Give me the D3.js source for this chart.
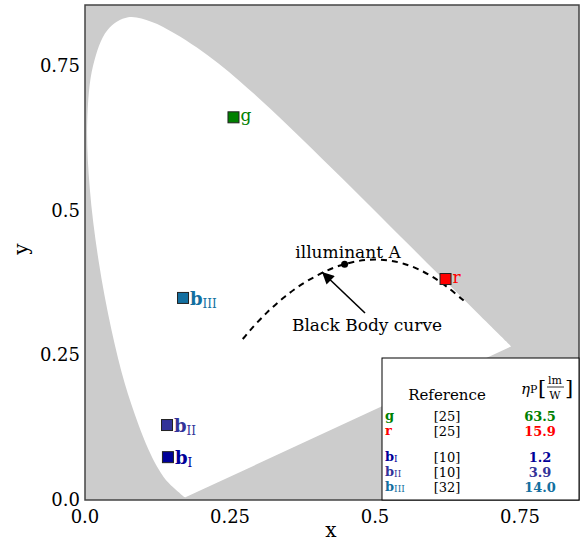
<!DOCTYPE html>
<html><head><meta charset="utf-8">
<script src="https://cdn.jsdelivr.net/npm/d3@7"></script>
<style>body{margin:0;background:#fff}svg{display:block}text{font-family:"DejaVu Serif",serif}</style>
</head><body>
<svg id="c" width="581" height="544"></svg>
<script>
// CIE 1931 spectral locus (380..700 nm)
const locusX = [0.1741,0.1740,0.1738,0.1736,0.1733,0.1730,0.1726,0.1721,0.1714,0.1703,0.1689,0.1669,0.1644,0.1611,0.1566,0.1510,0.1440,0.1355,0.1241,0.1096,0.0913,0.0687,0.0454,0.0235,0.0082,0.0039,0.0139,0.0389,0.0743,0.1142,0.1547,0.1929,0.2296,0.2658,0.3016,0.3373,0.3731,0.4087,0.4441,0.4788,0.5125,0.5448,0.5752,0.6029,0.6270,0.6482,0.6658,0.6801,0.6915,0.7006,0.7079,0.7140,0.7190,0.7230,0.7260,0.7283,0.7300,0.7311,0.7320,0.7334,0.7347];
const locusY = [0.0050,0.0050,0.0049,0.0049,0.0048,0.0048,0.0048,0.0048,0.0051,0.0058,0.0069,0.0086,0.0109,0.0138,0.0177,0.0227,0.0297,0.0399,0.0578,0.0868,0.1327,0.2007,0.2950,0.4127,0.5384,0.6548,0.7502,0.8120,0.8338,0.8262,0.8059,0.7816,0.7543,0.7243,0.6923,0.6589,0.6245,0.5896,0.5547,0.5202,0.4866,0.4544,0.4242,0.3965,0.3725,0.3514,0.3340,0.3197,0.3083,0.2993,0.2920,0.2859,0.2809,0.2770,0.2740,0.2717,0.2700,0.2689,0.2680,0.2666,0.2653];
// Planckian locus 1000K..12000K
const bbX = [0.6528,0.6251,0.5985,0.5732,0.5493,0.5267,0.5056,0.4862,0.4684,0.4476,0.4369,0.4176,0.4007,0.3805,0.3608,0.3451,0.3325,0.3221,0.3135,0.3064,0.2952,0.2869,0.2807,0.2760,0.2719];
const bbY = [0.3444,0.3674,0.3858,0.3993,0.4082,0.4133,0.4152,0.4147,0.4123,0.4074,0.4041,0.3965,0.3880,0.3768,0.3636,0.3516,0.3411,0.3318,0.3237,0.3166,0.3048,0.2956,0.2884,0.2826,0.2780];
const illumA = [0.4476, 0.4074];
// OLED emitters
const emNames = ["g","r","b","b","b"];
const emSubs = ["","","I","II","III"];
const emX = [0.256,0.6216,0.143,0.1414,0.169];
const emY = [0.661,0.3817,0.074,0.1295,0.349];
const emColors = ["#008000","#ff0000","#000099","#333399","#136fa0"];
const legendRefs = ["[25]","[25]","[10]","[10]","[32]"];
const legendEff = ["63.5","15.9","1.2","3.9","14.0"];
const xTicks = [0,0.25,0.5,0.75];
const xTickLabels = ["0.0","0.25","0.5","0.75"];
const yTicks = [0,0.25,0.5,0.75];
const yTickLabels = ["0.0","0.25","0.5","0.75"];

const svg = d3.select("#c");
const L=85, R=579, T=5, B=500;
const x = d3.scaleLinear().domain([0,0.8517]).range([L,R]);
const y = d3.scaleLinear().domain([0,0.855]).range([B,T]);

svg.append("clipPath").attr("id","pc").append("rect").attr("x",L).attr("y",T).attr("width",R-L).attr("height",B-T);
const g = svg.append("g").attr("clip-path","url(#pc)");
g.append("rect").attr("x",L).attr("y",T).attr("width",R-L).attr("height",B-T).attr("fill","#cccccc");
const locus = locusX.map((v,i)=>[v,locusY[i]]);
g.append("path").attr("d", d3.line().x(d=>x(d[0])).y(d=>y(d[1])).curve(d3.curveCatmullRom)(locus)+"Z").attr("fill","#fff");

const bb = bbX.map((v,i)=>[v,bbY[i]]);
g.append("path").attr("d", d3.line().x(d=>x(d[0])).y(d=>y(d[1])).curve(d3.curveCatmullRom)(bb))
 .attr("fill","none").attr("stroke","#000").attr("stroke-width",2).attr("stroke-dasharray","6,5");
g.append("circle").attr("cx",x(illumA[0])).attr("cy",y(illumA[1])).attr("r",3.5).attr("fill","#000");

svg.append("text").attr("x",348).attr("y",258).attr("text-anchor","middle").attr("font-size",17).text("illuminant A");
svg.append("text").attr("x",367).attr("y",331).attr("text-anchor","middle").attr("font-size",17).text("Black Body curve");
svg.append("defs").append("marker").attr("id","ah").attr("viewBox","0 0 10 10").attr("refX",10).attr("refY",5)
 .attr("markerWidth",14).attr("markerHeight",12).attr("markerUnits","userSpaceOnUse").attr("orient","auto")
 .append("path").attr("d","M0,0 L10,5 L0,10 Z").attr("fill","#000");
svg.append("line").attr("x1",365).attr("y1",313).attr("x2",322).attr("y2",272).attr("stroke","#000").attr("stroke-width",1.6).attr("marker-end","url(#ah)");

// emitters
emX.forEach((v,i)=>{
  g.append("rect").attr("x",x(v)-5.5).attr("y",y(emY[i])-5.5).attr("width",11).attr("height",11)
   .attr("fill",emColors[i]).attr("stroke","#222").attr("stroke-width",1);
  const t = svg.append("text").attr("x",x(v)+7).attr("fill",emColors[i]);
  if(emSubs[i]===""){
    t.attr("y",y(emY[i])+4).attr("font-size",17).text(emNames[i]);
  } else {
    t.attr("y",y(emY[i])+7).attr("font-size",18).attr("font-weight","bold").text(emNames[i]);
    t.append("tspan").attr("font-size",12).attr("font-weight","normal").attr("dy",3).text(emSubs[i]);
  }
});

// frame
svg.append("rect").attr("x",L).attr("y",T).attr("width",R-L).attr("height",B-T).attr("fill","none").attr("stroke","#444").attr("stroke-width",1.5);

// ticks
svg.selectAll(".xt").data(xTicks).enter().append("text").attr("x",d=>x(d)).attr("y",523).attr("text-anchor","middle").attr("font-size",18).text((d,i)=>xTickLabels[i]);
svg.selectAll(".yt").data(yTicks).enter().append("text").attr("x",80).attr("y",d=>y(d)+6).attr("text-anchor","end").attr("font-size",18).text((d,i)=>yTickLabels[i]);
svg.append("text").attr("x",331).attr("y",537).attr("text-anchor","middle").attr("font-size",20).text("x");
svg.append("text").attr("transform","translate(28,249) rotate(-90)").attr("text-anchor","middle").attr("font-size",20).text("y");

// legend table
const lg = svg.append("g");
lg.append("rect").attr("x",382).attr("y",358).attr("width",197).attr("height",142).attr("fill","#fff").attr("stroke","#000").attr("stroke-width",1);
lg.append("text").attr("x",447).attr("y",400).attr("text-anchor","middle").attr("font-size",15).text("Reference");
const h = lg.append("text").attr("x",521).attr("y",394).attr("font-size",15);
h.append("tspan").attr("font-style","italic").text("η");
h.append("tspan").attr("font-size",11).attr("dy",-1).text("P");
lg.append("text").attr("x",538).attr("y",395).attr("font-size",21).attr("font-weight","100").text("[");
lg.append("text").attr("x",565).attr("y",395).attr("font-size",21).text("]");
lg.append("text").attr("x",555).attr("y",384).attr("text-anchor","middle").attr("font-size",11).text("lm");
lg.append("line").attr("x1",547).attr("x2",564).attr("y1",387).attr("y2",387).attr("stroke","#000").attr("stroke-width",0.8);
lg.append("text").attr("x",555).attr("y",399).attr("text-anchor","middle").attr("font-size",11).text("W");
const rowY = [416,431,457,472,487];
emNames.forEach((n,i)=>{
  const t = lg.append("text").attr("x",385).attr("y",rowY[i]+4).attr("fill",emColors[i]).attr("font-size",13).attr("font-weight","bold").text(n);
  if(emSubs[i]) t.append("tspan").attr("font-size",9).attr("font-weight","normal").attr("dy",1).text(emSubs[i]);
  lg.append("text").attr("x",447).attr("y",rowY[i]+5).attr("text-anchor","middle").attr("font-size",13).text(legendRefs[i]);
  lg.append("text").attr("x",540).attr("y",rowY[i]+5).attr("text-anchor","middle").attr("fill",emColors[i]).attr("font-size",13).attr("font-weight","bold").text(legendEff[i]);
});
</script>
</body></html>
